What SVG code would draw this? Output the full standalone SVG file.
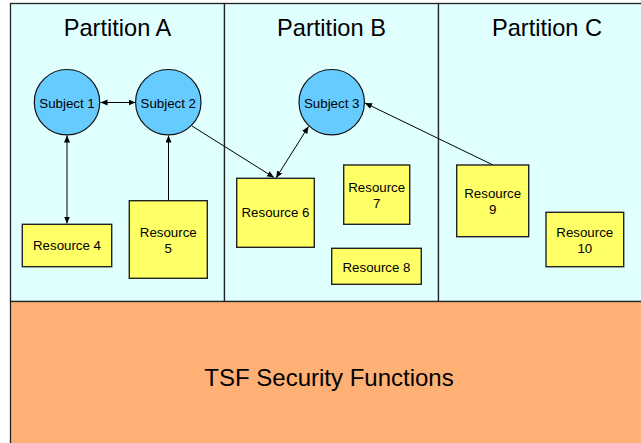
<svg xmlns="http://www.w3.org/2000/svg" width="641" height="443" viewBox="0 0 641 443">
<style>
.part{fill:#E0FFFF;stroke:#222;stroke-width:1.3}
.tsf{fill:#FFB074;stroke:#222;stroke-width:1.3}
.title{font-family:"Liberation Sans",Arial,sans-serif;font-size:23.6px;fill:#000;text-anchor:middle}
.subj{fill:#66CCFF;stroke:#111;stroke-width:1.2}
.res{fill:#FFFF66;stroke:#222;stroke-width:1.4}
.lbl{font-family:"Liberation Sans",Arial,sans-serif;font-size:13.3px;fill:#000;text-anchor:middle}
.big{font-family:"Liberation Sans",Arial,sans-serif;font-size:24px;fill:#000;text-anchor:middle}
.conn line{stroke:#000;stroke-width:1}
</style>
<defs>
<marker id="ah" markerUnits="userSpaceOnUse" markerWidth="8" markerHeight="7" refX="7" refY="3" orient="auto-start-reverse">
<path d="M0,0 L7,3 L0,6 z" fill="#000"/>
</marker>
</defs>
<rect width="641" height="443" fill="#fff"/>
<g id="partition-a"><rect class="part" x="10.5" y="3.5" width="214" height="298"/><text class="title" x="117.5" y="36">Partition A</text></g>
<g id="partition-b"><rect class="part" x="224.5" y="3.5" width="214" height="298"/><text class="title" x="331.5" y="36">Partition B</text></g>
<g id="partition-c"><rect class="part" x="438.5" y="3.5" width="220" height="298"/><text class="title" x="547" y="36">Partition C</text></g>
<g id="tsf"><rect class="tsf" x="10.5" y="301.5" width="650" height="150"/><text class="big" x="329" y="386">TSF Security Functions</text></g>
<g class="conn" id="connectors">
<line x1="100.5" y1="102.5" x2="135.5" y2="102.5" marker-start="url(#ah)" marker-end="url(#ah)"/>
<line x1="67" y1="135.5" x2="67" y2="223.5" marker-start="url(#ah)" marker-end="url(#ah)"/>
<line x1="168.5" y1="200.5" x2="168.5" y2="135.5" marker-end="url(#ah)"/>
<line x1="192" y1="126" x2="274" y2="177.5" marker-end="url(#ah)"/>
<line x1="276" y1="178" x2="308.5" y2="126.5" marker-start="url(#ah)" marker-end="url(#ah)"/>
<line x1="493" y1="165" x2="365" y2="103" marker-end="url(#ah)"/>
</g>
<g id="subject-1"><circle class="subj" cx="67" cy="102.2" r="32.7"/><text class="lbl" x="67" y="107.5">Subject 1</text></g>
<g id="subject-2"><circle class="subj" cx="168.3" cy="102.2" r="32.7"/><text class="lbl" x="168.3" y="107.5">Subject 2</text></g>
<g id="subject-3"><circle class="subj" cx="331.7" cy="102.2" r="32.7"/><text class="lbl" x="331.7" y="107.5">Subject 3</text></g>
<g id="resource-4"><rect class="res" x="22.3" y="224.3" width="89.4" height="42.4"/><text class="lbl" x="67" y="250">Resource 4</text></g>
<g id="resource-5"><rect class="res" x="129.3" y="200.7" width="78" height="77.6"/><text class="lbl" x="168.3" y="236.5">Resource</text><text class="lbl" x="168.3" y="253">5</text></g>
<g id="resource-6"><rect class="res" x="236.7" y="178.3" width="77.6" height="69"/><text class="lbl" x="275.5" y="217">Resource 6</text></g>
<g id="resource-7"><rect class="res" x="343.7" y="165" width="66" height="59.3"/><text class="lbl" x="376.7" y="192">Resource</text><text class="lbl" x="376.7" y="208">7</text></g>
<g id="resource-8"><rect class="res" x="331.7" y="248.3" width="89.6" height="36"/><text class="lbl" x="376.5" y="271.5">Resource 8</text></g>
<g id="resource-9"><rect class="res" x="456.7" y="165" width="72" height="71.7"/><text class="lbl" x="492.7" y="198">Resource</text><text class="lbl" x="492.7" y="214">9</text></g>
<g id="resource-10"><rect class="res" x="546" y="212.3" width="77.7" height="54.4"/><text class="lbl" x="584.8" y="237">Resource</text><text class="lbl" x="584.8" y="253">10</text></g>
</svg>
